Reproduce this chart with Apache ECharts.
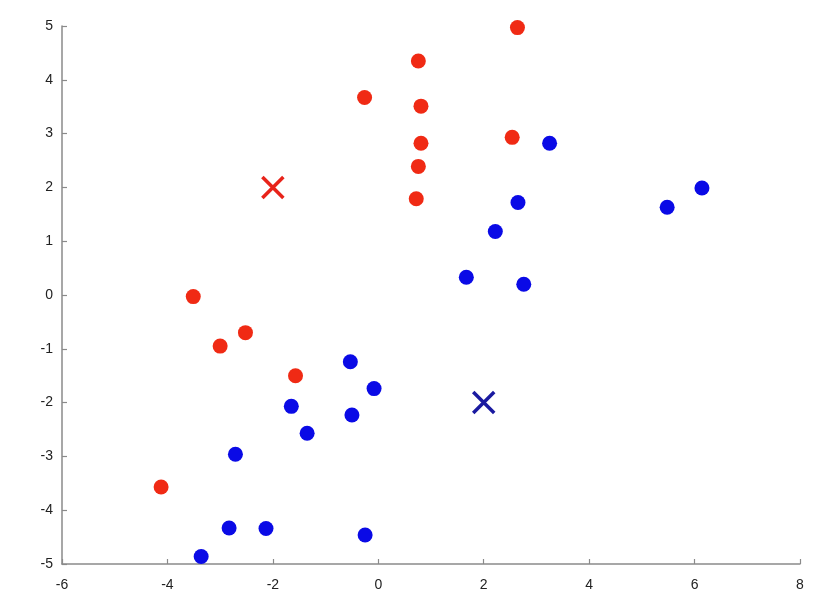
<!DOCTYPE html>
<html><head><meta charset="utf-8">
<script src="https://cdn.jsdelivr.net/npm/echarts@6/dist/echarts.min.js"></script>
<style>html,body{margin:0;padding:0;background:#fff}#c{width:833px;height:612px}</style>
</head><body><div id="c"></div>
<script>
const redPoints = [[2.64,4.97],[0.76,4.35],[-0.26,3.67],[0.81,3.51],[0.81,2.82],[0.76,2.39],[0.72,1.79],[2.54,2.93],[-3.51,-0.03],[-2.52,-0.70],[-3.0,-0.95],[-1.57,-1.50],[-4.12,-3.57]];
const bluePoints = [[3.25,2.82],[2.65,1.72],[2.22,1.18],[1.67,0.33],[2.76,0.20],[6.14,1.99],[5.48,1.63],[-1.65,-2.07],[-2.71,-2.96],[-2.83,-4.33],[-2.13,-4.34],[-3.36,-4.86],[-1.35,-2.57],[-0.53,-1.24],[-0.08,-1.74],[-0.50,-2.23],[-0.25,-4.46]];
const redCentroid = [[-2,2]];
const blueCentroid = [[2,-2]];
const xRange = [-6, 8];
const yRange = [-5, 5];

const chart = echarts.init(document.getElementById('c'));
function axis(extra, margin){
  return Object.assign({
    type:'value',
    axisLine:{show:true,onZero:false,lineStyle:{color:'#8a8a8a',width:1.5}},
    axisTick:{show:true,inside:true,length:5,lineStyle:{color:'#8a8a8a',width:1.2}},
    splitLine:{show:false},
    axisLabel:{color:'#222',fontSize:14,fontFamily:'Liberation Sans, Arial, sans-serif',margin:margin}
  }, extra);
}
const xPath = 'path://M0,0 L10,10 M10,0 L0,10';
chart.setOption({
  animation:false,
  backgroundColor:'#fff',
  grid:{left:62,right:33,top:26,bottom:48,containLabel:false},
  xAxis:axis({min:xRange[0],max:xRange[1],interval:2}, 14),
  yAxis:axis({min:yRange[0],max:yRange[1],interval:1}, 9),
  series:[
    {type:'scatter',data:redPoints,symbol:'circle',symbolSize:15,itemStyle:{color:'#f02a14',opacity:1}},
    {type:'scatter',data:bluePoints,symbol:'circle',symbolSize:15,itemStyle:{color:'#0a0ae6',opacity:1}},
    {type:'scatter',data:redCentroid,symbol:xPath,symbolSize:21,itemStyle:{color:'none',borderColor:'#e8231a',borderWidth:3.5,opacity:1}},
    {type:'scatter',data:blueCentroid,symbol:xPath,symbolSize:21,itemStyle:{color:'none',borderColor:'#1a1aa0',borderWidth:3.5,opacity:1}}
  ]
});
</script></body></html>
